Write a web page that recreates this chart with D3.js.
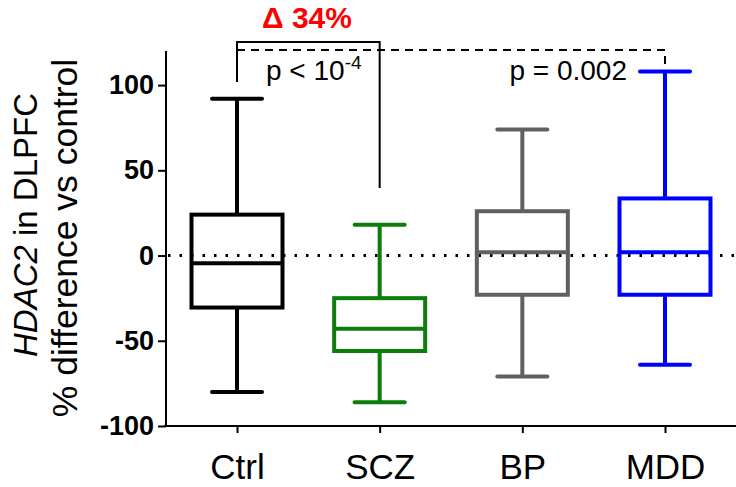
<!DOCTYPE html>
<html>
<head>
<meta charset="utf-8">
<script src="https://cdn.jsdelivr.net/npm/d3@7"></script>
<style>
  body { margin: 0; background: #fff; }
  svg { font-family: "Liberation Sans", Arial, sans-serif; }
</style>
</head>
<body>
<svg></svg>
<script>
//chart size
var screen = {width:736, height:487}

//data
var groups = ["Ctrl","SCZ","BP","MDD"]
var colors = ["#000000","#0a7d0a","#606060","#0000ff"]
var mins    = [-80, -86, -71, -64]
var q1s     = [-30.5, -56, -23, -23]
var medians = [-4.5, -43, 2, 2]
var q3s     = [24, -25, 26, 33.5]
var maxs    = [92, 18, 74, 108]
var yTicks  = [-100, -50, 0, 50, 100]

var svg = d3.select("svg")
  .attr("width", screen.width)
  .attr("height", screen.height)

var xScale = d3.scalePoint()
  .domain(groups)
  .range([237, 665])

var yScale = d3.scaleLinear()
  .domain([-100, 120])
  .range([426, 51])

var boxW = 91, capW = 50

//zero reference line
svg.append("line")
  .attr("x1", 168).attr("x2", screen.width)
  .attr("y1", yScale(0)).attr("y2", yScale(0))
  .attr("stroke", "#000").attr("stroke-width", 3)
  .attr("stroke-dasharray", "2.5,9")

//boxes
var data = groups.map(function(g,i){
  return {g:g, c:colors[i], min:mins[i], q1:q1s[i], med:medians[i], q3:q3s[i], max:maxs[i]}
})

var box = svg.selectAll(".box")
  .data(data)
  .enter()
  .append("g")
  .attr("class","box")
  .attr("stroke", function(d){return d.c})
  .attr("stroke-width", 4)
  .attr("fill", "none")

box.append("line")
  .attr("x1", function(d){return xScale(d.g)})
  .attr("x2", function(d){return xScale(d.g)})
  .attr("y1", function(d){return yScale(d.max)})
  .attr("y2", function(d){return yScale(d.q3)})
box.append("line")
  .attr("x1", function(d){return xScale(d.g)})
  .attr("x2", function(d){return xScale(d.g)})
  .attr("y1", function(d){return yScale(d.q1)})
  .attr("y2", function(d){return yScale(d.min)})
box.append("rect")
  .attr("x", function(d){return xScale(d.g) - boxW/2})
  .attr("width", boxW)
  .attr("y", function(d){return yScale(d.q3)})
  .attr("height", function(d){return yScale(d.q1) - yScale(d.q3)})
  .attr("fill", "none")
box.append("line")
  .attr("x1", function(d){return xScale(d.g) - boxW/2})
  .attr("x2", function(d){return xScale(d.g) + boxW/2})
  .attr("y1", function(d){return yScale(d.med)})
  .attr("y2", function(d){return yScale(d.med)})
box.selectAll(".cap")
  .data(function(d){return [{g:d.g, v:d.max},{g:d.g, v:d.min}]})
  .enter()
  .append("line")
  .attr("stroke-linecap","round")
  .attr("x1", function(d){return xScale(d.g) - capW/2})
  .attr("x2", function(d){return xScale(d.g) + capW/2})
  .attr("y1", function(d){return yScale(d.v)})
  .attr("y2", function(d){return yScale(d.v)})

//axes
var yAxis = d3.axisLeft(yScale).tickValues(yTicks).tickSize(8).tickPadding(4)
  .tickFormat(function(d){return String(d)}) //plain hyphen like the original
var xAxis = d3.axisBottom(xScale).tickSize(7)

svg.append("g")
  .attr("id","yAxis")
  .attr("transform","translate(166,0)")
  .call(yAxis)
  .call(function(g){
    g.select(".domain").attr("d","M0,"+yScale(120)+"V"+yScale(-100)).attr("stroke-width",2)
    g.selectAll(".tick line").attr("stroke-width",2)
    g.selectAll("text").attr("font-size",27).attr("font-weight","bold").attr("fill","#000")
      .attr("font-family","Liberation Sans, Arial, sans-serif")
  })

svg.append("g")
  .attr("id","xAxis")
  .attr("transform","translate(0,"+yScale(-100)+")")
  .call(xAxis)
  .call(function(g){
    g.select(".domain").attr("d","M164,0H"+screen.width).attr("stroke-width",2)
    g.selectAll(".tick line").attr("stroke-width",2)
    g.selectAll("text").attr("font-size",35).attr("fill","#000")
      .attr("y",53).attr("dy",0)
      .attr("font-family","Liberation Sans, Arial, sans-serif")
  })

//y label
var ylab = svg.append("text")
  .attr("transform","translate(37,225) rotate(-90)")
  .attr("text-anchor","middle")
  .attr("font-size",33)
ylab.append("tspan").attr("font-style","italic").text("HDAC2")
ylab.append("tspan").text(" in DLPFC")
svg.append("text")
  .attr("transform","translate(77,238) rotate(-90)")
  .attr("text-anchor","middle")
  .attr("font-size",35.5)
  .text("% difference vs control")

//significance brackets
var yTop = 42, yDash = 50
svg.append("path")
  .attr("d","M"+xScale("Ctrl")+",82V"+yTop+"H"+xScale("SCZ")+"V188")
  .attr("fill","none").attr("stroke","#000").attr("stroke-width",2)
svg.append("path")
  .attr("d","M"+xScale("Ctrl")+","+yDash+"H"+xScale("MDD")+"V67")
  .attr("fill","none").attr("stroke","#000").attr("stroke-width",2)
  .attr("stroke-dasharray","8,6")

svg.append("text")
  .attr("x", 307).attr("y", 28)
  .attr("text-anchor","middle")
  .attr("font-size",30).attr("font-weight","bold").attr("fill","#ff0000")
  .text("Δ 34%")

var p1 = svg.append("text")
  .attr("x", 266).attr("y", 80)
  .attr("font-size",28)
p1.append("tspan").text("p < 10")
p1.append("tspan").attr("font-size",19).attr("dy",-11).text("-4")

svg.append("text")
  .attr("x", 627).attr("y", 80)
  .attr("text-anchor","end")
  .attr("font-size",28)
  .text("p = 0.002")
</script>
</body>
</html>
